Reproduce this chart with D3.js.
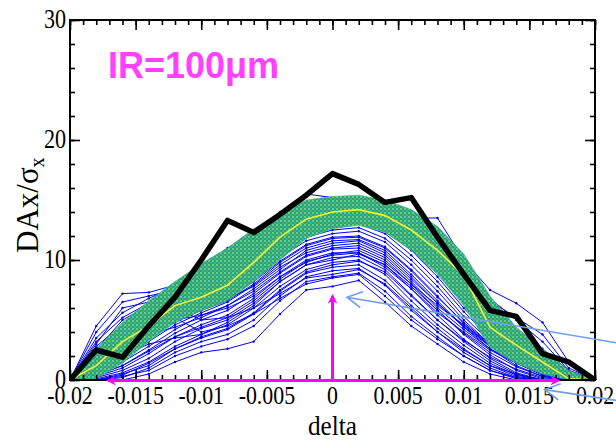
<!DOCTYPE html>
<html>
<head>
<meta charset="utf-8">
<script src="https://cdn.jsdelivr.net/npm/d3@7"></script>
<style>
  body { margin: 0; background: #fff; }
  svg { display: block; }
</style>
</head>
<body>
<svg id="chart" width="616" height="440"></svg>
<script>
// delta grid of the scan (every 0.002)
let deltaGrid = [-0.02, -0.018, -0.016, -0.014, -0.012, -0.01, -0.008, -0.006, -0.004, -0.002, 0,
                 0.002, 0.004, 0.006, 0.008, 0.01, 0.012, 0.014, 0.016, 0.018, 0.02];

// thick black curve
let blackLine = [0, 2.5, 1.9, 4.5, 6.9, 10.0, 13.3, 12.3, 13.8, 15.4, 17.2,
                 16.3, 14.8, 15.2, 11.9, 8.8, 5.8, 5.3, 2.2, 1.5, 0];

// yellow average curve
let meanLine = [0, 1.2, 3.2, 4.5, 6.2, 6.9, 7.9, 9.8, 11.9, 13.4, 14.0,
                14.2, 13.7, 12.5, 10.8, 8.7, 4.4, 2.9, 1.5, 0.1, 0];

// green band limits
let bandHigh = [0, 2.6, 4.8, 6.6, 8.2, 9.7, 11.0, 12.6, 14.0, 15.0, 15.3,
                15.4, 15.0, 14.2, 12.8, 10.5, 7.0, 4.4, 2.6, 0.8, 0];
let bandLow  = [0, 0.1, 1.4, 3.2, 4.8, 5.8, 6.6, 8.2, 10.0, 11.8, 12.6,
                12.9, 12.3, 10.8, 8.8, 6.2, 2.7, 1.4, 0.5, 0, 0];

// thin blue seeds
let blueRuns = [
  [0, 0, 0, 0.5, 1.5, 2.3, 2.6, 3.2, 5.5, 7.5, 7.8, 8.3, 6.5, 4.5, 3.0, 1.5, 0.5, 0, 0, 0, 0],
  [0, 0, 0.3, 0.8, 2.0, 2.8, 3.4, 4.5, 6.6, 8.2, 8.6, 8.9, 7.4, 5.3, 3.6, 2.0, 0.8, 0.1, 0, 0, 0],
  [0, 0, 0.5, 1.2, 2.6, 3.5, 4.2, 5.5, 7.4, 8.9, 9.4, 9.6, 8.3, 6.2, 4.3, 2.6, 1.2, 0.3, 0, 0, 0],
  [0, 0.2, 0.8, 1.8, 3.2, 4.3, 5.0, 6.4, 8.2, 9.6, 10.2, 10.3, 9.2, 7.1, 5.0, 3.2, 1.6, 0.5, 0, 0, 0],
  [0, 0.4, 1.2, 2.5, 3.9, 5.0, 5.8, 7.2, 8.9, 10.3, 10.9, 11.0, 10.0, 8.0, 5.8, 3.8, 2.1, 0.8, 0.1, 0, 0],
  [0, 0.6, 1.8, 3.2, 4.6, 5.6, 6.5, 7.9, 9.6, 11.0, 11.6, 11.7, 10.8, 8.8, 6.6, 4.4, 2.6, 1.2, 0.3, 0, 0],
  [0, 1.0, 2.5, 3.9, 5.2, 6.2, 7.0, 8.5, 10.2, 11.6, 12.2, 12.4, 11.5, 9.6, 7.4, 5.0, 3.0, 1.6, 0.5, 0, 0],
  [0, 1.5, 3.2, 4.6, 5.8, 6.8, 7.6, 9.0, 10.8, 12.2, 12.8, 13.0, 12.2, 10.4, 8.2, 5.7, 3.5, 2.0, 0.8, 0.1, 0],
  [0, 2.0, 3.8, 5.2, 6.4, 7.3, 8.2, 9.6, 11.4, 12.8, 13.5, 13.6, 12.9, 11.3, 9.0, 6.4, 4.0, 2.4, 1.1, 0.2, 0],
  [0, 2.8, 4.6, 6.0, 7.2, 8.0, 8.9, 10.4, 12.1, 13.6, 14.2, 14.3, 13.8, 12.4, 10.3, 7.6, 4.6, 2.8, 1.4, 0.3, 0],
  [0, 3.5, 5.6, 6.8, 7.8, 8.8, 9.8, 11.3, 12.9, 14.4, 14.9, 15.0, 14.6, 13.4, 11.6, 9.0, 5.6, 3.4, 1.8, 0.5, 0],
  [0, 4.5, 7.2, 7.3, 7.9, 9.5, 11.0, 12.3, 14.0, 15.5, 15.2, 14.8, 14.5, 13.5, 13.5, 10.0, 7.5, 6.4, 4.8, 1.5, 0],
  [0, 4.0, 6.5, 7.0, 7.5, 8.5, 10.2, 11.8, 13.2, 14.8, 15.0, 15.1, 14.9, 14.0, 12.4, 9.6, 6.8, 5.0, 3.2, 0.8, 0],
  [0, 3.0, 6.0, 6.5, 6.0, 5.0, 5.2, 6.0, 7.2, 8.5, 8.8, 9.2, 8.0, 6.0, 4.0, 2.5, 1.2, 0.5, 0, 0, 0],
  [0, 2.0, 4.5, 5.5, 5.2, 4.0, 4.5, 5.5, 6.8, 8.0, 8.5, 8.8, 7.0, 5.0, 3.4, 2.0, 0.8, 0.2, 0, 0, 0],
  [0, 0.8, 2.0, 3.0, 3.5, 3.8, 4.8, 6.2, 8.2, 9.6, 10.0, 10.5, 9.6, 7.6, 5.6, 4.0, 2.5, 1.4, 0.6, 0, 0],
  [0, 1.2, 2.8, 4.2, 5.5, 6.6, 7.8, 9.2, 11.0, 12.5, 13.2, 13.4, 12.6, 11.8, 10.2, 8.0, 6.2, 4.2, 2.6, 0.8, 0],
  [0, 0.5, 1.5, 2.8, 4.2, 5.4, 6.0, 7.0, 8.6, 9.8, 10.5, 10.8, 9.8, 8.0, 6.2, 4.6, 3.0, 1.8, 0.8, 0.2, 0],
  [0, 0.3, 1.0, 2.2, 3.6, 4.6, 5.4, 6.8, 8.6, 10.0, 10.6, 10.6, 9.4, 7.6, 5.4, 3.4, 1.8, 0.6, 0, 0, 0],
  [0, 0.8, 2.2, 3.5, 4.9, 5.9, 6.8, 8.2, 9.9, 11.3, 11.9, 12.0, 11.1, 9.2, 7.0, 4.7, 2.8, 1.4, 0.4, 0, 0],
  [0, 1.3, 2.9, 4.3, 5.5, 6.5, 7.3, 8.8, 10.5, 11.9, 12.5, 12.7, 11.8, 10.0, 7.8, 5.3, 3.2, 1.8, 0.7, 0, 0],
  [0, 1.8, 3.5, 4.9, 6.1, 7.0, 7.9, 9.3, 11.1, 12.5, 13.1, 13.3, 12.5, 10.8, 8.6, 6.0, 3.7, 2.2, 1.0, 0.1, 0],
  [0, 0.1, 0.6, 1.5, 2.8, 3.8, 4.6, 6.0, 7.8, 9.2, 9.8, 10.0, 8.8, 6.6, 4.6, 2.9, 1.4, 0.4, 0, 0, 0],
  [0, 0, 0.2, 1.0, 2.3, 3.2, 3.8, 5.0, 7.0, 8.6, 9.1, 9.3, 7.9, 5.8, 4.0, 2.3, 1.0, 0.2, 0, 0, 0],
  [0, 2.5, 5.0, 6.2, 6.8, 6.6, 6.8, 7.8, 9.4, 10.6, 11.2, 11.4, 10.4, 8.4, 6.4, 4.4, 2.8, 1.6, 0.6, 0, 0],
  [0, 1.6, 3.6, 4.8, 5.0, 5.4, 6.2, 7.4, 9.0, 10.4, 11.0, 11.2, 10.2, 8.2, 6.0, 4.2, 2.6, 1.5, 0.5, 0, 0],
  [0, 0.4, 1.2, 2.4, 3.6, 4.4, 5.2, 6.6, 8.4, 9.9, 10.4, 10.6, 9.6, 7.8, 5.8, 3.9, 2.3, 1.1, 0.3, 0, 0],
  [0, 2.4, 4.2, 5.6, 6.8, 7.7, 8.6, 10.1, 11.8, 13.2, 13.8, 14.0, 13.5, 12.8, 11.2, 8.5, 6.6, 5.2, 3.8, 1.0, 0],
  [0, 3.2, 5.2, 6.4, 7.4, 8.4, 9.3, 10.8, 12.5, 14.0, 14.6, 14.7, 14.2, 13.0, 11.0, 8.2, 5.2, 3.6, 2.2, 0.4, 0],
  [0, 0.9, 2.3, 3.6, 4.8, 5.8, 6.6, 8.0, 9.8, 11.2, 11.8, 11.9, 11.0, 9.1, 6.9, 4.8, 3.0, 1.7, 0.7, 0.1, 0],
  [0, 0, 0.4, 1.4, 2.6, 3.6, 4.3, 5.6, 7.5, 9.0, 9.6, 9.9, 9.0, 7.0, 5.0, 3.3, 1.9, 0.9, 0.2, 0, 0],
  [0, 1.1, 2.6, 3.8, 4.4, 5.2, 6.2, 7.6, 9.2, 10.8, 11.4, 11.6, 10.6, 8.6, 6.4, 4.5, 2.9, 1.7, 0.8, 0.1, 0]
];

let xTicks = [-0.02, -0.015, -0.01, -0.005, 0, 0.005, 0.01, 0.015, 0.02];
let yTicks = [0, 10, 20, 30];

const svg = d3.select("#chart");
const pLeft = 70, pRight = 595, pTop = 20, pBottom = 380;

let x = d3.scaleLinear().domain([-0.02, 0.02]).range([pLeft, pRight]);
let y = d3.scaleLinear().domain([0, 30]).range([pBottom, pTop]);

const serif = "'Liberation Serif', 'Times New Roman', serif";

// speckled green fill for the band
let defs = svg.append("defs");
let pat = defs.append("pattern").attr("id", "speck")
    .attr("width", 4).attr("height", 4).attr("patternUnits", "userSpaceOnUse");
pat.append("rect").attr("width", 4).attr("height", 4).attr("fill", "#2f9f80");
pat.append("circle").attr("cx", 1).attr("cy", 1).attr("r", 0.9).attr("fill", "#78ea80");
pat.append("circle").attr("cx", 3).attr("cy", 3).attr("r", 0.7).attr("fill", "#5fd879");

defs.append("clipPath").attr("id", "plotclip")
  .append("rect").attr("x", pLeft).attr("y", pTop - 5)
  .attr("width", pRight - pLeft + 3).attr("height", pBottom - pTop + 5);

// arrow heads
defs.append("marker").attr("id", "mhead")
    .attr("viewBox", "0 0 10 10").attr("refX", 8).attr("refY", 5)
    .attr("markerWidth", 3.2).attr("markerHeight", 3.2).attr("orient", "auto-start-reverse")
  .append("path").attr("d", "M0,0 L10,5 L0,10 L3,5 Z").attr("fill", "#ff00ff");

let plot = svg.append("g").attr("clip-path", "url(#plotclip)");

let line = d3.line()
    .x((d, i) => x(deltaGrid[i]))
    .y(d => y(d));

// blue lines
let blues = plot.append("g");
blueRuns.forEach(run => {
  blues.append("path")
    .attr("d", line(run))
    .attr("fill", "none")
    .attr("stroke", "#0000ff")
    .attr("stroke-width", 1);
  blues.selectAll(null).data(run).enter().append("circle")
    .attr("cx", (d, i) => x(deltaGrid[i]))
    .attr("cy", d => y(d))
    .attr("r", 1.2)
    .attr("fill", "#0000e0");
});

// green band
let band = d3.area()
    .x((d, i) => x(deltaGrid[i]))
    .y0((d, i) => y(bandLow[i]))
    .y1(d => y(d));

plot.append("path")
    .attr("d", band(bandHigh))
    .attr("fill", "url(#speck)")
    .attr("stroke", "#3fb08a")
    .attr("stroke-width", 0.6);

// yellow mean
plot.append("path")
    .attr("d", line(meanLine))
    .attr("fill", "none")
    .attr("stroke", "#f2f230")
    .attr("stroke-width", 1.6);

// black line
plot.append("path")
    .attr("d", line(blackLine))
    .attr("fill", "none")
    .attr("stroke", "#000")
    .attr("stroke-width", 5.5)
    .attr("stroke-linejoin", "round");

// axes, ticks pointing inward on all four sides
function drawTicks(axis, tx, ty) {
  let g = svg.append("g").attr("transform", `translate(${tx},${ty})`).call(axis.tickFormat(""));
  g.select(".domain").remove();
  g.selectAll("line").attr("stroke", "#000").attr("stroke-width", 1.6);
  return g;
}

let minorX = d3.range(-20, 21).map(k => k / 1000);
let minorY = d3.range(0, 31, 2);

drawTicks(d3.axisBottom(x).tickValues(minorX).tickSize(-5), 0, pBottom);
drawTicks(d3.axisTop(x).tickValues(minorX).tickSize(-5), 0, pTop);
drawTicks(d3.axisBottom(x).tickValues(xTicks).tickSize(-10), 0, pBottom);
drawTicks(d3.axisTop(x).tickValues(xTicks).tickSize(-10), 0, pTop);
drawTicks(d3.axisLeft(y).tickValues(minorY).tickSize(-5), pLeft, 0);
drawTicks(d3.axisRight(y).tickValues(minorY).tickSize(-5), pRight, 0);
drawTicks(d3.axisLeft(y).tickValues(yTicks).tickSize(-10), pLeft, 0);
drawTicks(d3.axisRight(y).tickValues(yTicks).tickSize(-10), pRight, 0);

// tick labels: narrow, tall serif look of the original
let fmt = d => d === 0 ? "0" : String(+d.toFixed(3));
function label(px, py, txt, anchor, size, sx) {
  return svg.append("text")
    .attr("transform", `translate(${px},${py}) scale(${sx},1)`)
    .attr("text-anchor", anchor)
    .style("font-family", serif).style("font-size", size + "px")
    .attr("fill", "#000")
    .text(txt);
}
xTicks.forEach(t => label(x(t), 404, fmt(t), "middle", 26, 0.84));
yTicks.forEach(t => label(66, y(t) + 8, String(t), "end", 27, 0.82));

svg.append("rect")
    .attr("x", pLeft).attr("y", pTop)
    .attr("width", pRight - pLeft).attr("height", pBottom - pTop)
    .attr("fill", "none").attr("stroke", "#000").attr("stroke-width", 2);

// axis titles
label((pLeft + pRight) / 2, 435, "delta", "middle", 28, 0.9);

let ylab = svg.append("text")
    .attr("transform", "translate(38,253) rotate(-90)")
    .attr("text-anchor", "start")
    .style("font-family", serif).style("font-size", "31px");
ylab.append("tspan").text("DAx/σ");
ylab.append("tspan").attr("dy", 6).style("font-size", "20px").text("x");

// title
svg.append("text")
    .attr("x", 108).attr("y", 78)
    .style("font-family", "'Liberation Sans', Arial, sans-serif")
    .style("font-size", "36px").style("font-weight", "bold")
    .attr("fill", "#ff40ff")
    .text("IR=100μm");

// magenta annotation arrows
svg.append("line")
    .attr("x1", x(0)).attr("y1", y(0)).attr("x2", x(0)).attr("y2", y(7.0))
    .attr("stroke", "#ff00ff").attr("stroke-width", 3)
    .attr("marker-end", "url(#mhead)");
svg.append("line")
    .attr("x1", x(-0.0171)).attr("y1", y(-0.05)).attr("x2", x(0.0172)).attr("y2", y(-0.05))
    .attr("stroke", "#ff00ff").attr("stroke-width", 3)
    .attr("marker-start", "url(#mhead)").attr("marker-end", "url(#mhead)");

// light blue pointer arrows
function pointer(x0, y0, x1, y1) {
  let a = Math.atan2(y0 - y1, x0 - x1), L = 17, s = 0.5;
  let p = d3.path();
  p.moveTo(x0, y0); p.lineTo(x1, y1);
  p.moveTo(x1 + L * Math.cos(a - s), y1 + L * Math.sin(a - s));
  p.lineTo(x1, y1);
  p.lineTo(x1 + L * Math.cos(a + s), y1 + L * Math.sin(a + s));
  svg.append("path").attr("d", p.toString())
    .attr("fill", "none").attr("stroke", "#6f9fe8").attr("stroke-width", 1.6);
}
pointer(x(0.0216), y(3.1), x(0.0011), y(6.9));
pointer(x(0.0216), y(-1.7), x(0.01617), y(-0.8));
</script>
</body>
</html>
